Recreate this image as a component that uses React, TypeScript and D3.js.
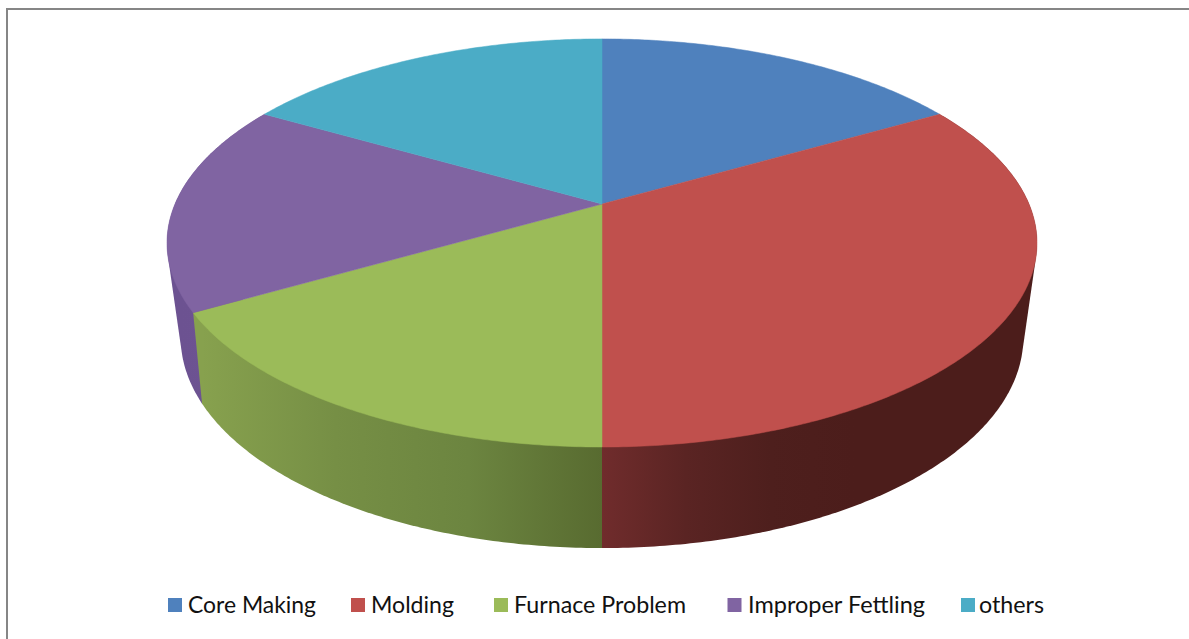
import React from "react";
import * as d3 from "d3";

// Defect share by cause
const categories = ["Core Making", "Molding", "Furnace Problem", "Improper Fettling", "others"];
const shares = [10, 20, 10, 10, 10];
const faceColors = ["#4f81bd", "#c0504d", "#9bbb59", "#8064a2", "#4bacc6"];
// Wall shading from the left end to the right end of each visible wall
const wallShades: (string[] | null)[] = [
  null,
  ["#702c2c", "#5a2423", "#4e1f1d", "#4c1d1b", "#4c1d1b", "#4c1d1b"],
  ["#87a14e", "#768f45", "#6c8540", "#586b30"],
  ["#6c5291", "#6f5494"],
  null,
];

const WIDTH = 1189;
const HEIGHT = 639;

type Plane = { cx: number; cy: number; bx: number; ay: number; p: number };

// Perspective projections of the pie's top disc and its bottom rim
const topPlane: Plane = { cx: 602, cy: 204, bx: 427, ay: 196.6, p: 0.191 };
const bottomPlane: Plane = { cx: 602, cy: 291, bx: 411, ay: 200.5, p: 0.22 };

const project = (pl: Plane, angle: number, r = 1): [number, number] => {
  const u = r * Math.sin(angle);
  const v = r * Math.cos(angle);
  const w = 1 + pl.p * v;
  return [pl.cx + (pl.bx * u) / w, pl.cy - (pl.ay * v) / w];
};

const samples = (a: number, b: number) => {
  const n = Math.max(2, Math.ceil(Math.abs(b - a) / 0.01));
  return d3.range(n + 1).map((i) => a + ((b - a) * i) / n);
};

const outline = d3.line().curve(d3.curveLinear);

const facePath = (a: number, b: number) =>
  outline([project(topPlane, 0, 0), ...samples(a, b).map((t) => project(topPlane, t))])! + "Z";

// The wall is the hull of both rims: the part that overlaps the top face is painted over by it
const wallPath = (a: number, b: number) => {
  const rims = samples(a, b).flatMap((t) => [project(topPlane, t), project(bottomPlane, t)]);
  return outline(d3.polygonHull(rims)!)! + "Z";
};

const legendSwatchX = [168, 351, 494, 727.5, 961];
const legendTextX = [188, 371, 514, 748, 979];
const legendTextLength = [128, 83, 172, 177, 65];

export default function App() {
  const arcs = d3.pie<number>().sort(null)(shares);

  // Walls are painted back to front so the nearer slice covers its neighbour's edge
  const wallOrder = [3, 1, 2];

  return (
    <svg
      width={WIDTH}
      height={HEIGHT}
      viewBox={`0 0 ${WIDTH} ${HEIGHT}`}
      style={{ position: "absolute", left: 0, top: 0, display: "block", background: "#fff" }}
    >
      <defs>
        {arcs.map((arc, i) => {
          const shades = wallShades[i];
          if (!shades) return null;
          const xs = samples(arc.startAngle, arc.endAngle).map((t) => project(bottomPlane, t)[0]);
          const [x1, x2] = d3.extent(xs) as [number, number];
          return (
            <linearGradient key={i} id={`wall-${i}`} gradientUnits="userSpaceOnUse" x1={x1} x2={x2} y1={0} y2={0}>
              {shades.map((c, k) => (
                <stop key={k} offset={k / (shades.length - 1)} stopColor={c} />
              ))}
            </linearGradient>
          );
        })}
      </defs>

      <rect x={7} y={9} width={WIDTH + 20} height={HEIGHT + 20} fill="#fff" stroke="#868686" strokeWidth={2} />

      {wallOrder.map((i) => (
        <path key={i} d={wallPath(arcs[i].startAngle, arcs[i].endAngle)} fill={`url(#wall-${i})`} />
      ))}

      {arcs.map((arc, i) => (
        <path
          key={i}
          d={facePath(arc.startAngle, arc.endAngle)}
          fill={faceColors[i]}
          stroke={faceColors[i]}
          strokeWidth={0.5}
        />
      ))}

      {categories.map((name, i) => (
        <g key={name}>
          <rect x={legendSwatchX[i]} y={598} width={14} height={14} fill={faceColors[i]} />
          <text
            x={legendTextX[i]}
            y={613}
            fontFamily="Lato, 'Noto Sans', sans-serif"
            fontSize={23}
            fill="#111"
            textLength={legendTextLength[i]}
            lengthAdjust="spacingAndGlyphs"
          >
            {name}
          </text>
        </g>
      ))}
    </svg>
  );
}
